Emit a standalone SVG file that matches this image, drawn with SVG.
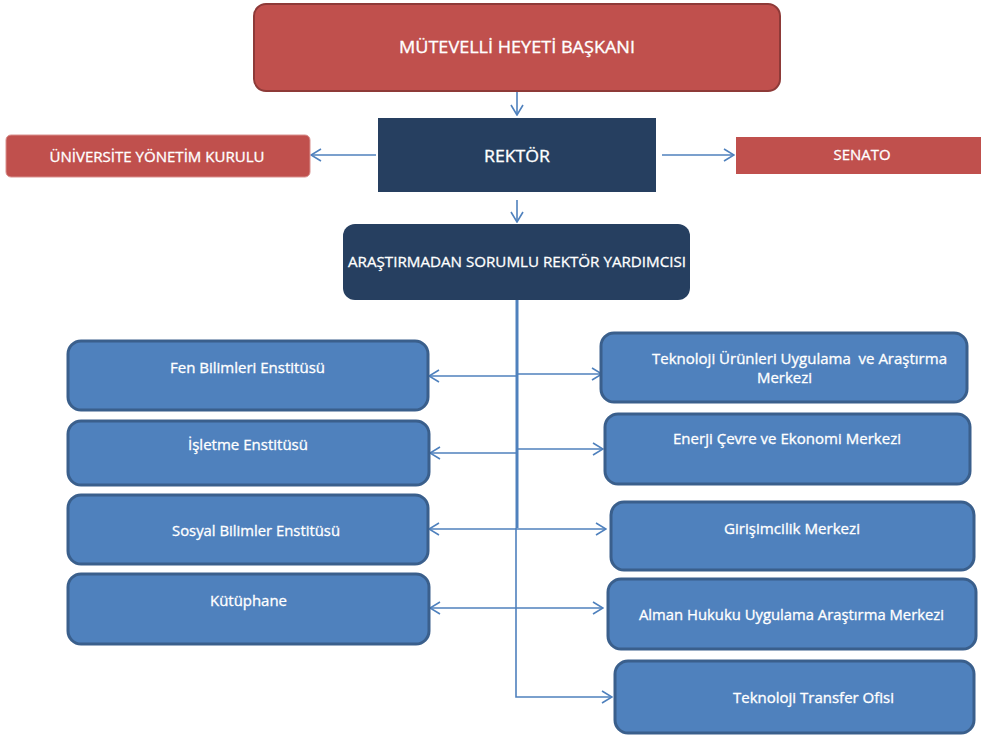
<svg xmlns="http://www.w3.org/2000/svg" width="981" height="740" viewBox="0 0 981 740">
<style>
.red{fill:#C0504D}
.navy{fill:#263F60}
.blue{fill:#4F81BD;stroke:#3A5F8C;stroke-width:3}
.t{font-family:"Open Sans","Liberation Sans",sans-serif;font-weight:400;fill:#FFFFFF;stroke:#FFFFFF;stroke-width:0.3}
.c{stroke:#4F81BD;stroke-width:1.6;fill:none}
</style>
<defs>
<marker id="ah" viewBox="0 0 12 14" refX="11" refY="7" markerWidth="12" markerHeight="14" markerUnits="userSpaceOnUse" orient="auto">
<path d="M1,1 L11,7 L1,13" fill="none" stroke="#4F81BD" stroke-width="1.6"/>
</marker>
</defs>
<rect width="981" height="740" fill="#FFFFFF"/>
<g id="connectors" class="c">
<line x1="517" y1="92" x2="517" y2="115" marker-end="url(#ah)"/>
<line x1="376" y1="155" x2="311" y2="155" marker-end="url(#ah)"/>
<line x1="662" y1="155" x2="734" y2="155" marker-end="url(#ah)"/>
<line x1="517" y1="200" x2="517" y2="222" marker-end="url(#ah)"/>
<line x1="517" y1="300" x2="517" y2="528" stroke-width="3"/>
<polyline points="516,528 516,697 612,697" marker-end="url(#ah)"/>
<line x1="517" y1="376" x2="429" y2="376" marker-end="url(#ah)"/>
<line x1="517" y1="374" x2="602" y2="374" marker-end="url(#ah)"/>
<line x1="517" y1="453" x2="430" y2="453" marker-end="url(#ah)"/>
<line x1="517" y1="449" x2="603" y2="449" marker-end="url(#ah)"/>
<line x1="517" y1="529" x2="429" y2="529" marker-end="url(#ah)"/>
<line x1="517" y1="529" x2="606" y2="529" marker-end="url(#ah)"/>
<line x1="517" y1="608" x2="430" y2="608" marker-end="url(#ah)"/>
<line x1="517" y1="608" x2="603" y2="608" marker-end="url(#ah)"/>
</g>
<g id="mutevelli">
<rect x="254" y="4" width="526" height="87" rx="12" class="red" stroke="#8E3A38" stroke-width="2"/>
<text class="t" x="517" y="53" font-size="16" text-anchor="middle" textLength="236" lengthAdjust="spacingAndGlyphs">MÜTEVELLİ HEYETİ BAŞKANI</text>
</g>
<g id="rektor">
<rect x="378" y="118" width="278" height="74" class="navy"/>
<text class="t" x="517" y="162" font-size="16" text-anchor="middle" textLength="66" lengthAdjust="spacingAndGlyphs">REKTÖR</text>
</g>
<g id="yonetim">
<rect x="6" y="135" width="304" height="42" rx="5" class="red" stroke="#D9908E" stroke-width="1"/>
<text class="t" x="157" y="162" font-size="14" text-anchor="middle" textLength="215" lengthAdjust="spacingAndGlyphs">ÜNİVERSİTE YÖNETİM KURULU</text>
</g>
<g id="senato">
<rect x="736" y="137" width="245" height="37" class="red"/>
<text class="t" x="862" y="160" font-size="14" text-anchor="middle" textLength="57" lengthAdjust="spacingAndGlyphs">SENATO</text>
</g>
<g id="yardimci">
<rect x="343" y="224" width="347" height="76" rx="12" class="navy"/>
<text class="t" x="517" y="267" font-size="15" text-anchor="middle" textLength="338" lengthAdjust="spacingAndGlyphs">ARAŞTIRMADAN SORUMLU REKTÖR YARDIMCISI</text>
</g>
<g id="fen">
<rect x="68" y="341" width="360" height="69" rx="13" class="blue"/>
<text class="t" x="170" y="373" font-size="14" textLength="155" lengthAdjust="spacingAndGlyphs">Fen Bilimleri Enstitüsü</text>
</g>
<g id="isletme">
<rect x="68" y="421" width="361" height="64" rx="13" class="blue"/>
<text class="t" x="188" y="450" font-size="14" textLength="120" lengthAdjust="spacingAndGlyphs">İşletme Enstitüsü</text>
</g>
<g id="sosyal">
<rect x="68" y="495" width="360" height="69" rx="13" class="blue"/>
<text class="t" x="172" y="536" font-size="14" textLength="168" lengthAdjust="spacingAndGlyphs">Sosyal Bilimler Enstitüsü</text>
</g>
<g id="kutuphane">
<rect x="68" y="574" width="361" height="70" rx="13" class="blue"/>
<text class="t" x="210" y="606" font-size="14" textLength="77" lengthAdjust="spacingAndGlyphs">Kütüphane</text>
</g>
<g id="teknoloji-urunleri">
<rect x="601" y="333" width="366" height="69" rx="13" class="blue"/>
<text class="t" x="652" y="364" font-size="14" textLength="295" lengthAdjust="spacingAndGlyphs">Teknoloji Ürünleri Uygulama&#160; ve Araştırma</text>
<text class="t" x="757" y="383" font-size="14" textLength="55" lengthAdjust="spacingAndGlyphs">Merkezi</text>
</g>
<g id="enerji">
<rect x="605" y="414" width="365" height="70" rx="13" class="blue"/>
<text class="t" x="673" y="444" font-size="14" textLength="228" lengthAdjust="spacingAndGlyphs">Enerji Çevre ve Ekonomi Merkezi</text>
</g>
<g id="girisimcilik">
<rect x="611" y="502" width="363" height="68" rx="13" class="blue"/>
<text class="t" x="724" y="534" font-size="14" textLength="136" lengthAdjust="spacingAndGlyphs">Girişimcilik Merkezi</text>
</g>
<g id="alman">
<rect x="608" y="579" width="368" height="70" rx="13" class="blue"/>
<text class="t" x="639" y="620" font-size="14" textLength="305" lengthAdjust="spacingAndGlyphs">Alman Hukuku Uygulama Araştırma Merkezi</text>
</g>
<g id="transfer">
<rect x="615" y="661" width="359" height="72" rx="13" class="blue"/>
<text class="t" x="733" y="703" font-size="14" textLength="161" lengthAdjust="spacingAndGlyphs">Teknoloji Transfer Ofisi</text>
</g>
</svg>
